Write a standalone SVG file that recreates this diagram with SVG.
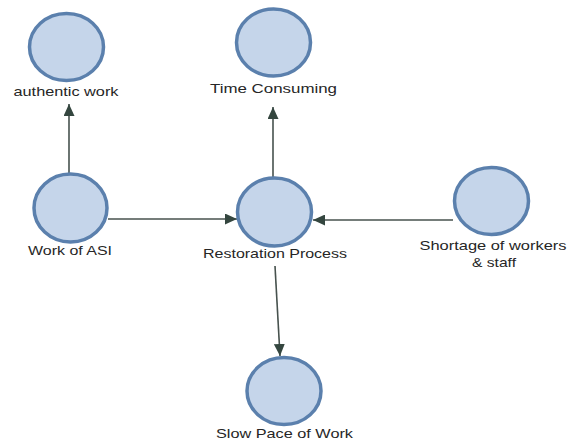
<svg xmlns="http://www.w3.org/2000/svg" width="572" height="445" viewBox="0 0 572 445">
  <defs>
    <marker id="arrow" viewBox="0 0 12 11" refX="12" refY="5.5" markerWidth="12" markerHeight="11" markerUnits="userSpaceOnUse" orient="auto">
      <path d="M0,0 L12,5.5 L0,11 Z" fill="#34463f"/>
    </marker>
    <style>
      .node ellipse { fill: #c5d5ea; stroke: #5b80ad; stroke-width: 3.5; }
      .node text { font-family: "Liberation Sans", Arial, sans-serif; font-size: 13px; fill: #262626; text-anchor: middle; }
      .edge { stroke: #47524e; stroke-width: 1.6; fill: none; marker-end: url(#arrow); }
    </style>
  </defs>
  <rect width="572" height="445" fill="#ffffff"/>

  <g id="connectors">
    <line class="edge" x1="69" y1="173" x2="69" y2="104"/>
    <line class="edge" x1="273" y1="177" x2="273" y2="107"/>
    <line class="edge" x1="108" y1="219" x2="237" y2="219"/>
    <line class="edge" x1="453" y1="220" x2="313" y2="220"/>
    <line class="edge" x1="275" y1="266" x2="280" y2="356"/>
  </g>

  <g id="authentic-work" class="node">
    <ellipse cx="66.5" cy="47" rx="37" ry="33.5"/>
    <text x="66" y="96" textLength="105" lengthAdjust="spacingAndGlyphs">authentic work</text>
  </g>

  <g id="time-consuming" class="node">
    <ellipse cx="273.5" cy="42.5" rx="37" ry="33.5"/>
    <text x="273.5" y="93" textLength="127" lengthAdjust="spacingAndGlyphs">Time Consuming</text>
  </g>

  <g id="work-of-asi" class="node">
    <ellipse cx="70.5" cy="208" rx="36.5" ry="34"/>
    <text x="70" y="255" textLength="84" lengthAdjust="spacingAndGlyphs">Work of ASI</text>
  </g>

  <g id="restoration-process" class="node">
    <ellipse cx="274.5" cy="212" rx="37" ry="34"/>
    <text x="275" y="258" textLength="144" lengthAdjust="spacingAndGlyphs">Restoration Process</text>
  </g>

  <g id="shortage-of-workers" class="node">
    <ellipse cx="491.5" cy="201" rx="37" ry="33.5"/>
    <text x="493" y="250" textLength="147" lengthAdjust="spacingAndGlyphs">Shortage of workers</text>
    <text x="494" y="267" textLength="44" lengthAdjust="spacingAndGlyphs">&amp; staff</text>
  </g>

  <g id="slow-pace-of-work" class="node">
    <ellipse cx="284" cy="391" rx="37" ry="33.5"/>
    <text x="284.5" y="438" textLength="137" lengthAdjust="spacingAndGlyphs">Slow Pace of Work</text>
  </g>
</svg>
